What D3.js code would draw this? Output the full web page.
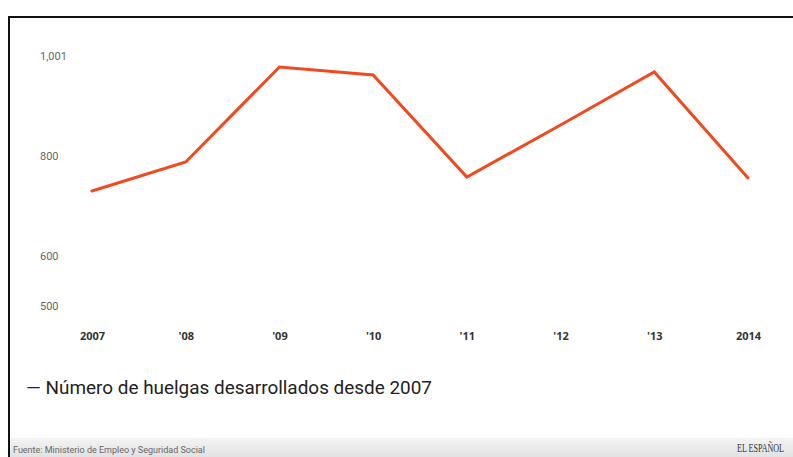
<!DOCTYPE html>
<html><head><meta charset="utf-8">
<script src="https://cdn.jsdelivr.net/npm/d3@7"></script>
<style>
html,body{margin:0;padding:0;background:#fff;}
svg{display:block;}
</style></head>
<body>
<svg id="c" width="793" height="457"></svg>
<script>
const years = ["2007","'08","'09","'10","'11","'12","'13","2014"];
const huelgas = [730, 788, 978, 962, 758, 862, 968, 756];
const yTicks = [500, 600, 800, 1000];
const yTickLabels = ["500", "600", "800", "1,001"];
const legendLabel = "Número de huelgas desarrollados desde 2007";
const sourceLabel = "Fuente: Ministerio de Empleo y Seguridad Social";
const brand = "EL ESPAÑOL";

const svg = d3.select("#c");
const W = 793, H = 457;

// frame
svg.append("rect").attr("x", 0).attr("y", 0).attr("width", W).attr("height", H).attr("fill", "#fff");
svg.append("path").attr("d", `M9,${H} V17 H${W}`).attr("fill", "none").attr("stroke", "#111").attr("stroke-width", 2);

const x = d3.scalePoint().domain(years).range([92, 748]);
const y = d3.scaleLinear().domain([500, 1000]).range([306, 56]);

// y axis labels
const yAxis = d3.axisLeft(y).tickValues(yTicks).tickSize(0)
  .tickFormat((d, i) => yTickLabels[i]);
const gy = svg.append("g").attr("transform", "translate(40,0)").call(yAxis);
gy.select(".domain").remove();
gy.selectAll("text").attr("text-anchor", "start").attr("x", 0).attr("dy", "0.32em")
  .attr("fill", "#666").style("font-family", "Roboto, 'Liberation Sans', sans-serif").style("font-size", "11px");

// x axis labels
const xAxis = d3.axisBottom(x).tickSize(0);
const gx = svg.append("g").attr("transform", "translate(0,332)").call(xAxis);
gx.select(".domain").remove();
gx.selectAll("text").attr("fill", "#333").attr("y", 0).attr("dy", "0.71em")
  .style("font-family", "'Open Sans', 'DejaVu Sans', sans-serif").style("font-size", "11px").style("font-weight", "700");

// line
const line = d3.line().x((d, i) => x(years[i])).y(d => y(d));
svg.append("path").datum(huelgas).attr("d", line)
  .attr("fill", "none").attr("stroke", "#f04a1e").attr("stroke-width", 3)
  .attr("stroke-linejoin", "miter").attr("stroke-linecap", "round");

// legend
svg.append("text").attr("x", 26).attr("y", 394)
  .attr("textLength", 406).attr("lengthAdjust", "spacingAndGlyphs")
  .style("font-family", "Roboto, 'Liberation Sans', sans-serif").style("font-size", "18px")
  .attr("fill", "#222").text("— " + legendLabel);

// footer
const grad = svg.append("defs").append("linearGradient").attr("id", "fg").attr("x1", 0).attr("y1", 0).attr("x2", 0).attr("y2", 1);
grad.append("stop").attr("offset", "0").attr("stop-color", "#f4f4f4");
grad.append("stop").attr("offset", "1").attr("stop-color", "#e2e2e2");
svg.append("rect").attr("x", 10).attr("y", 438).attr("width", W - 10).attr("height", H - 438).attr("fill", "url(#fg)");
svg.append("text").attr("x", 13).attr("y", 453)
  .style("font-family", "Roboto, 'Liberation Sans', sans-serif").style("font-size", "9px")
  .attr("fill", "#666").text(sourceLabel);
svg.append("text").attr("transform", "translate(737,452) scale(0.62,1)")
  .style("font-family", "'Liberation Serif', 'DejaVu Serif', serif").style("font-size", "13px")
  .attr("fill", "#333").text(brand);
</script>
</body></html>
